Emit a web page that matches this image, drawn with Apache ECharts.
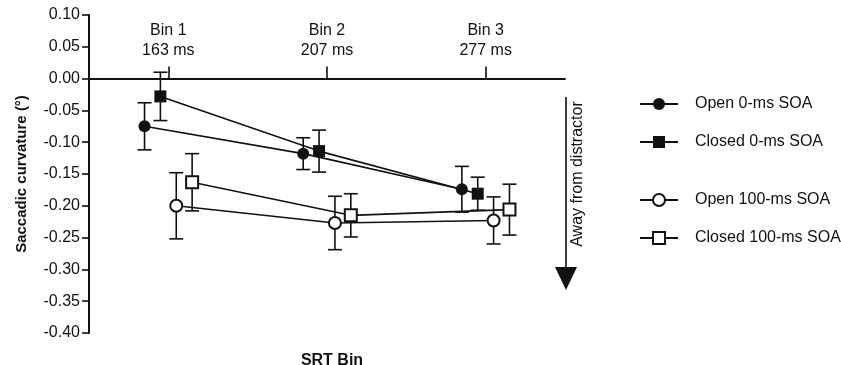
<!DOCTYPE html>
<html>
<head>
<meta charset="utf-8">
<script src="https://cdn.jsdelivr.net/npm/echarts@6/dist/echarts.min.js"></script>
<style>html,body{margin:0;padding:0;background:#fff}#chart{width:841px;height:365px}</style>
</head>
<body>
<div id="chart"></div>
<script>
// ---- data ----
const bins = [1, 2, 3];
const binLabels = ['Bin 1', 'Bin 2', 'Bin 3'];
const srtMs = [163, 207, 277];
const seriesNames = ['Open 0-ms SOA', 'Closed 0-ms SOA', 'Open 100-ms SOA', 'Closed 100-ms SOA'];
const openMean0 = [-0.075, -0.118, -0.174];
const openErr0 = [0.037, 0.025, 0.036];
const closedMean0 = [-0.028, -0.114, -0.181];
const closedErr0 = [0.038, 0.033, 0.026];
const openMean100 = [-0.200, -0.227, -0.223];
const openErr100 = [0.052, 0.042, 0.037];
const closedMean100 = [-0.163, -0.215, -0.206];
const closedErr100 = [0.045, 0.034, 0.040];
const yTickMin = -0.40, yTickMax = 0.10, yTickStep = 0.05;

// ---- build ----
const INK = '#111';
const dodge = [-0.15, -0.05, 0.05, 0.15];
const means = [openMean0, closedMean0, openMean100, closedMean100];
const errs = [openErr0, closedErr0, openErr100, closedErr100];
const symbols = ['circle', 'rect', 'emptyCircle', 'emptyRect'];

const lineSeries = seriesNames.map((name, s) => ({
  name: name,
  type: 'line',
  z: 3,
  symbol: symbols[s],
  symbolSize: 12,
  showAllSymbol: true,
  lineStyle: { color: INK, width: 1.6 },
  itemStyle: { color: INK, borderColor: INK, borderWidth: s >= 2 ? 1.6 : 0 },
  emphasis: { disabled: true },
  data: bins.map((b, i) => [b + dodge[s], means[s][i]])
}));

const errData = [];
seriesNames.forEach((n, s) => bins.forEach((b, i) => {
  errData.push([b + dodge[s], means[s][i] - errs[s][i], means[s][i] + errs[s][i]]);
}));

const errSeries = {
  type: 'custom',
  z: 1,
  silent: true,
  encode: { x: 0, y: [1, 2] },
  data: errData,
  renderItem: function (params, api) {
    const x = api.value(0);
    const lo = api.coord([x, api.value(1)]);
    const hi = api.coord([x, api.value(2)]);
    const hw = 7;
    const st = { stroke: INK, lineWidth: 1.6 };
    return {
      type: 'group',
      children: [
        { type: 'line', shape: { x1: hi[0], y1: hi[1], x2: lo[0], y2: lo[1] }, style: st },
        { type: 'line', shape: { x1: hi[0] - hw, y1: hi[1], x2: hi[0] + hw, y2: hi[1] }, style: st },
        { type: 'line', shape: { x1: lo[0] - hw, y1: lo[1], x2: lo[0] + hw, y2: lo[1] }, style: st }
      ]
    };
  }
};

const legendCommon = {
  orient: 'vertical',
  left: 639,
  padding: 0,
  itemWidth: 38,
  itemHeight: 15,
  itemGap: 20,
  selectedMode: false,
  textStyle: { fontSize: 16, color: INK, lineHeight: 18, padding: [0, 0, 0, 12] }
};

const option = {
  animation: false,
  backgroundColor: '#fff',
  textStyle: { fontFamily: 'Liberation Sans, Arial, sans-serif' },
  grid: { left: 89, right: 276, top: 15, bottom: 32, containLabel: false, outerBoundsMode: 'none' },
  title: {
    text: 'SRT Bin', left: 327, top: 348, textAlign: 'center',
    textStyle: { fontSize: 16, fontWeight: 'bold', color: INK }
  },
  legend: [
    Object.assign({}, legendCommon, { top: 95, data: seriesNames.slice(0, 2) }),
    Object.assign({}, legendCommon, { top: 191, data: seriesNames.slice(2, 4) })
  ],
  xAxis: {
    type: 'value',
    position: 'top',
    min: 0.5,
    max: 3.5,
    axisLine: { onZero: true, lineStyle: { color: INK, width: 2 } },
    axisTick: { customValues: bins, length: 12, inside: false, lineStyle: { color: INK, width: 1.6 } },
    axisLabel: {
      customValues: bins,
      margin: -46,
      fontSize: 16,
      lineHeight: 20,
      color: INK,
      formatter: function (v) {
        const i = bins.indexOf(v);
        return i < 0 ? '' : binLabels[i] + '\n' + srtMs[i] + ' ms';
      }
    },
    splitLine: { show: false }
  },
  yAxis: {
    type: 'value',
    min: yTickMin,
    max: yTickMax,
    interval: yTickStep,
    name: 'Saccadic curvature (°)',
    nameLocation: 'middle',
    nameGap: 60,
    nameTextStyle: { fontSize: 15, fontWeight: 'bold', color: INK },
    axisLine: { show: true, onZero: false, lineStyle: { color: INK, width: 2 } },
    axisTick: { show: true, length: 7, lineStyle: { color: INK, width: 1.6 } },
    axisLabel: { fontSize: 16, color: INK, margin: 9, formatter: v => v.toFixed(2) },
    splitLine: { show: false }
  },
  graphic: [
    { type: 'line', shape: { x1: 566, y1: 97, x2: 566, y2: 268 }, style: { stroke: INK, lineWidth: 1.6 } },
    { type: 'polygon', shape: { points: [[555, 267], [577, 267], [566, 290]] }, style: { fill: INK } },
    {
      type: 'text', x: 578, y: 174, rotation: Math.PI / 2,
      style: { text: 'Away from distractor', font: '16px "Liberation Sans", Arial, sans-serif', fill: INK, align: 'center', verticalAlign: 'middle' }
    }
  ],
  series: [errSeries].concat(lineSeries)
};

const chart = echarts.init(document.getElementById('chart'), null, { renderer: 'canvas' });
chart.setOption(option);
</script>
</body>
</html>
